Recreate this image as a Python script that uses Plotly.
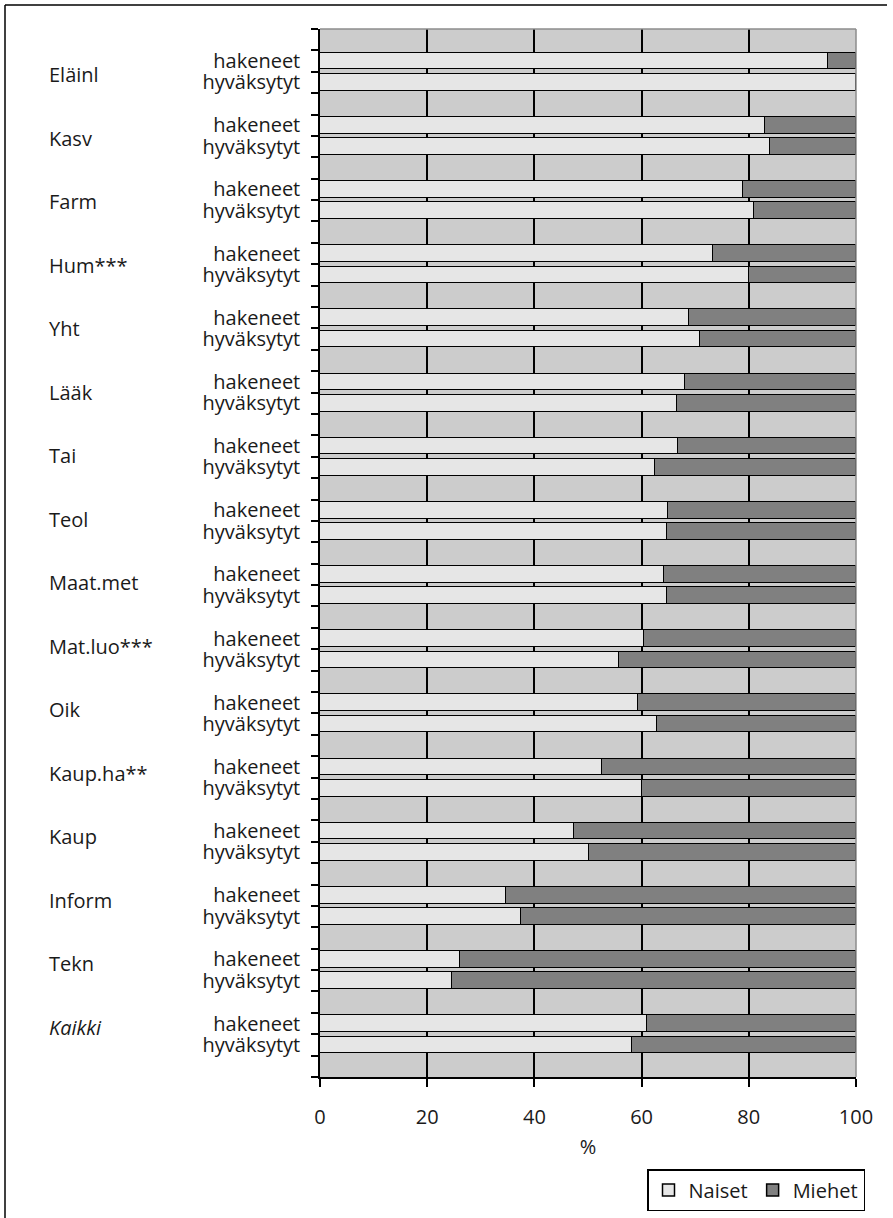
import plotly.graph_objects as go

groups = ["Eläinl", "Kasv", "Farm", "Hum***", "Yht", "Lääk", "Tai", "Teol",
          "Maat.met", "Mat.luo***", "Oik", "Kaup.ha**", "Kaup", "Inform", "Tekn", "<i>Kaikki</i>"]
row_labels = ["hakeneet", "hyväksytyt"]

naiset_hakeneet = [94.7, 83.1, 79.0, 73.3, 68.9, 68.1, 66.7, 64.9, 64.2, 60.5, 59.3, 52.6, 47.3, 34.7, 26.1, 61.0]
naiset_hyvaksytyt = [100.0, 83.9, 80.9, 80.0, 70.9, 66.6, 62.5, 64.7, 64.7, 55.8, 62.8, 60.1, 50.2, 37.5, 24.6, 58.3]
miehet_hakeneet = [5.3, 16.9, 21.0, 26.7, 31.1, 31.9, 33.3, 35.1, 35.8, 39.5, 40.7, 47.4, 52.7, 65.3, 73.9, 39.0]
miehet_hyvaksytyt = [0.0, 16.1, 19.1, 20.0, 29.1, 33.4, 37.5, 35.3, 35.3, 44.2, 37.2, 39.9, 49.8, 62.5, 75.4, 41.7]

x_ticks = [0, 20, 40, 60, 80, 100]

FONT = "Open Sans"
TXT = "#1a1a1a"

W, H = 893, 1218
plot_l, plot_r, plot_t, plot_b = 320, 856, 29, 1077

n = len(groups)
pos_hak = [3 * i + 1 for i in range(n)]
pos_hyv = [3 * i + 2 for i in range(n)]
n_slots = 3 * n + 1

y_pos = []
naiset_vals = []
miehet_vals = []
for i in range(n):
    y_pos += [pos_hak[i], pos_hyv[i]]
    naiset_vals += [naiset_hakeneet[i], naiset_hyvaksytyt[i]]
    miehet_vals += [miehet_hakeneet[i], miehet_hyvaksytyt[i]]

fig = go.Figure()
fig.add_trace(go.Bar(
    name="Naiset", x=naiset_vals, y=y_pos, orientation="h", width=0.78,
    marker=dict(color="#e6e6e6", line=dict(color="black", width=1.5)),
))
fig.add_trace(go.Bar(
    name="Miehet", x=miehet_vals, y=y_pos, orientation="h", width=0.78,
    marker=dict(color="#808080", line=dict(color="black", width=1.5)),
))

tick_pos = []
tick_txt = []
for i in range(n):
    tick_pos += [pos_hak[i], pos_hyv[i]]
    tick_txt += row_labels


def px_x(px):
    return (px - plot_l) / (plot_r - plot_l)


def px_y(py):
    return (plot_b - py) / (plot_b - plot_t)


# group labels: own evenly spaced column, slightly tighter than the bar groups
label_top, label_bottom = 75, 1027
annotations = []
for i, g in enumerate(groups):
    py = label_top + (label_bottom - label_top) * i / (n - 1)
    annotations.append(dict(
        x=px_x(47), xref="x domain", y=px_y(py), yref="y domain",
        text=g, showarrow=False, xanchor="left", yanchor="middle",
        font=dict(family=FONT, size=20, color=TXT),
    ))

shapes = [
    # plot area top and right border (gray)
    dict(type="line", xref="x domain", yref="y domain", x0=0, x1=1, y0=1, y1=1,
         line=dict(color="#8c8c8c", width=1.5), layer="above"),
    dict(type="line", xref="x domain", yref="y domain", x0=1, x1=1, y0=0, y1=1,
         line=dict(color="#8c8c8c", width=1.5), layer="above"),
    # outer frame (top and left edges)
    dict(type="line", xref="x domain", yref="y domain",
         x0=px_x(5), x1=px_x(887), y0=px_y(5), y1=px_y(5),
         line=dict(color="black", width=1.5)),
    dict(type="line", xref="x domain", yref="y domain",
         x0=px_x(5), x1=px_x(5), y0=px_y(1222), y1=px_y(5),
         line=dict(color="black", width=1.5)),
]

fig.update_layout(
    width=W, height=H,
    margin=dict(l=plot_l, r=W - plot_r, t=plot_t, b=H - plot_b),
    paper_bgcolor="white", plot_bgcolor="#cccccc",
    barmode="stack", bargap=0,
    font=dict(family=FONT, size=20, color=TXT),
    showlegend=True,
    legend=dict(
        orientation="h", x=865 / W, xanchor="right", xref="container",
        y=1 - 1169 / H, yanchor="top", yref="container",
        bordercolor="black", borderwidth=1.5, bgcolor="white",
        font=dict(family=FONT, size=20, color=TXT),
        itemwidth=30, tracegroupgap=0, traceorder="normal",
    ),
    xaxis=dict(
        range=[0, 100], tickvals=x_ticks, ticks="outside", ticklen=8, tickwidth=1.5,
        tickcolor="black", showline=True, linecolor="black", linewidth=1.5,
        showgrid=True, gridcolor="black", gridwidth=1.5, zeroline=False,
        ticklabelstandoff=13, tickfont=dict(family=FONT, size=20, color=TXT),
        title=dict(text="%", standoff=11, font=dict(family=FONT, size=20, color=TXT)),
    ),
    yaxis=dict(
        range=[n_slots - 0.5, -0.5], tickvals=tick_pos, ticktext=tick_txt, ticks="",
        showline=True, linecolor="black", linewidth=1.5, showgrid=False, zeroline=False,
        ticklabelstandoff=14, tickfont=dict(family=FONT, size=20, color=TXT),
        minor=dict(tickvals=[k - 0.5 for k in range(n_slots + 1)], ticks="outside",
                   ticklen=7, tickwidth=1.5, tickcolor="black", showgrid=False),
    ),
    annotations=annotations,
    shapes=shapes,
)

fig.write_html("out.html", config={"displayModeBar": False},
               post_script="document.body.style.margin='0';document.body.style.padding='0';")
